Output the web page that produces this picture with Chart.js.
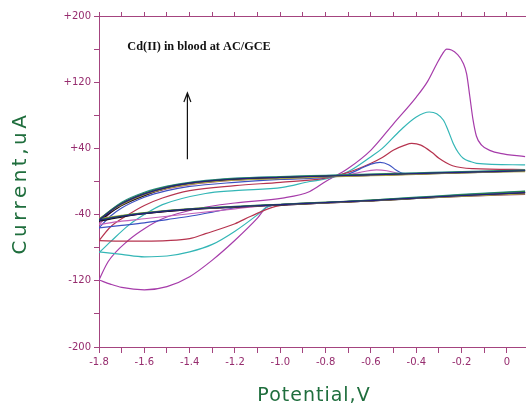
<!DOCTYPE html>
<html>
<head>
<meta charset="utf-8">
<script src="https://cdn.jsdelivr.net/npm/chart.js@4.4.0/dist/chart.umd.min.js"></script>
<style>
  html, body { margin: 0; padding: 0; background: #fff; }
  #cv { display: block; }
</style>
</head>
<body>
<canvas id="cv" width="526" height="405"></canvas>
<script>
// potential grids (V) for the background scans
const blankCathE = [-1.8, -1.7, -1.6, -1.4, -1.2, -1.0, -0.8, -0.6, -0.4, -0.2, 0.08];
const blankAnodE = [-1.8, -1.75, -1.7, -1.6, -1.5, -1.4, -1.3, -1.2, -1.0, -0.8, -0.6, -0.4, -0.2, 0.08];

// background scans, current in uA
const blank1Cath = [-47, -42, -38.5, -33.5, -30.5, -28, -25.5, -23, -20, -17, -13.5];
const blank1Anod = [-47, -36, -27, -15, -7, -2, 1, 3, 5, 6.5, 8, 9.5, 11, 13];
const blank2Cath = [-46, -41.5, -38, -33, -30, -27.5, -25, -22.5, -19.5, -16, -12];
const blank2Anod = [-46, -35, -26, -14, -6, -1.5, 1.5, 3.5, 5.5, 7, 8.5, 10, 11.5, 13.5];
const blank3Cath = [-45, -41, -37.5, -33, -30.5, -28, -26, -23.5, -20.5, -18, -15];
const blank3Anod = [-45, -36, -28, -16, -8.5, -3.5, -0.5, 1.5, 3.5, 5.5, 7, 8.5, 10.5, 12];
const blank4Cath = [-48, -43, -39, -34, -31, -28.5, -26, -23.5, -20.5, -17.5, -14];
const blank4Anod = [-48, -38, -29, -17, -8, -3, 0, 2.5, 4.5, 6, 7.5, 9, 10.5, 12.5];
const blank5Cath = [-46.5, -42, -38.5, -33.5, -30.5, -28, -25.5, -22.5, -19, -15.5, -11.5];
const blank5Anod = [-46.5, -35, -25, -13, -5.5, -1, 2, 4, 6, 7.5, 9, 10.5, 12, 14];
const blank6Cath = [-47.5, -42.5, -39, -34, -31, -28.5, -26, -23.5, -20.5, -18, -15.5];
const blank6Anod = [-47.5, -37, -27.5, -15.5, -7.5, -2.5, 0.5, 2.5, 4.5, 6, 7.5, 9, 11, 13];

// Cd additions, lowest to highest
const cd1CathE = [-1.8, -1.7, -1.6, -1.4, -1.2, -1.1, -1.0, -0.8, -0.6, -0.4, -0.2, 0.08];
const cd1CathI = [-52, -48, -45, -39, -33, -30, -28, -25.5, -23, -20, -17, -13.5];
const cd1AnodE = [-1.8, -1.75, -1.7, -1.6, -1.5, -1.4, -1.2, -1.0, -0.8, -0.7, -0.65, -0.6, -0.575, -0.53, -0.48, -0.44, -0.4, -0.2, 0.08];
const cd1AnodI = [-52, -38, -29, -17, -9, -4, 1.5, 4, 6, 8, 11, 13.5, 14, 13, 10, 9, 9.5, 11, 13];

const cd2CathE = [-1.8, -1.7, -1.6, -1.5, -1.4, -1.3, -1.16, -1.0, -0.8, -0.6, -0.4, -0.2, 0.08];
const cd2CathI = [-56, -53, -50, -46, -42, -37, -30, -28, -25.5, -23, -20, -17, -13.5];
const cd2AnodE = [-1.8, -1.75, -1.7, -1.6, -1.5, -1.4, -1.2, -1.0, -0.8, -0.7, -0.65, -0.6, -0.56, -0.52, -0.49, -0.46, -0.4, -0.2, 0.08];
const cd2AnodI = [-56, -42, -32, -19, -11, -6, -1, 2.5, 5, 9, 15, 21, 23, 20, 14, 10, 9.5, 11, 13];

const cd3CathE = [-1.8, -1.7, -1.6, -1.5, -1.4, -1.33, -1.2, -1.13, -1.02, -0.8, -0.6, -0.4, -0.2, 0.08];
const cd3CathI = [-71.5, -72, -72, -71.5, -69, -63, -51, -42, -30, -25.5, -23, -20, -17, -13.5];
const cd3AnodE = [-1.8, -1.75, -1.67, -1.6, -1.52, -1.4, -1.2, -1.0, -0.8, -0.7, -0.6, -0.55, -0.5, -0.45, -0.42, -0.38, -0.33, -0.3, -0.24, -0.15, 0.08];
const cd3AnodI = [-71.5, -55, -40, -29, -20, -11, -5, -1, 4, 11, 22, 29, 38, 44, 46, 44, 35, 28, 19, 15.5, 14.5];

const cd4CathE = [-1.8, -1.7, -1.6, -1.5, -1.4, -1.3, -1.2, -1.1, -1.06, -1.0, -0.8, -0.6, -0.4, -0.2, 0.08];
const cd4CathI = [-85, -88, -91, -90, -85, -76, -60, -40, -31, -28, -25.5, -23, -20, -17, -13.5];
const cd4AnodE = [-1.8, -1.75, -1.67, -1.6, -1.52, -1.33, -1.2, -0.99, -0.87, -0.8, -0.7, -0.6, -0.55, -0.47, -0.4, -0.343, -0.31, -0.28, -0.26, -0.237, -0.215, -0.193, -0.16, -0.134, 0.08];
const cd4AnodI = [-86, -73, -53, -40, -28, -14.5, -11, -7, 0, 3, 12, 30, 40, 62, 78, 84, 82, 74, 62, 46, 35, 28, 24, 22, 20];

const cd5CathE = [-1.8, -1.75, -1.7, -1.6, -1.5, -1.4, -1.3, -1.2, -1.1, -1.06, -1.0, -0.8, -0.6, -0.4, -0.2, 0.08];
const cd5CathI = [-119, -124, -128, -131, -127, -115, -95, -71, -44, -31, -28, -25.5, -23, -20, -17, -13.5];
const cd5AnodE = [-1.8, -1.76, -1.67, -1.6, -1.52, -1.35, -1.2, -0.99, -0.87, -0.8, -0.7, -0.6, -0.5, -0.4, -0.35, -0.31, -0.285, -0.266, -0.245, -0.22, -0.193, -0.178, -0.164, -0.15, -0.135, -0.112, -0.07, -0.03, 0.08];
const cd5AnodI = [-119, -97, -71, -57, -45, -32, -26, -20, -12, 0, 16, 38, 70, 102, 121, 142, 154, 160, 159, 154, 143, 130, 103, 75, 55, 44, 37, 34, 30];

// axes
const xTickValues = [-1.8, -1.7, -1.6, -1.5, -1.4, -1.3, -1.2, -1.1, -1.0, -0.9, -0.8, -0.7, -0.6, -0.5, -0.4, -0.3, -0.2, -0.1, 0];
const xTickLabels = ['-1.8', '', '-1.6', '', '-1.4', '', '-1.2', '', '-1.0', '', '-0.8', '', '-0.6', '', '-0.4', '', '-0.2', '', '0'];
const yTickValues = [-200, -160, -120, -80, -40, 0, 40, 80, 120, 160, 200];
const yTickLabels = ['-200', '', '-120', '', '-40', '', '+40', '', '+120', '', '+200'];

const axisColor = '#a4447f';
const tickTextColor = '#962c6e';
const titleColor = '#1f6e3d';

const pts = (E, I) => E.map((e, i) => ({ x: e, y: I[i] }));

const scans = [
  { c: blank1Cath, a: blank1Anod, color: '#22227e' },
  { c: blank2Cath, a: blank2Anod, color: '#2b7c42' },
  { c: blank3Cath, a: blank3Anod, color: '#aaa244' },
  { c: blank4Cath, a: blank4Anod, color: '#141414' },
  { c: blank5Cath, a: blank5Anod, color: '#2a8e8e' },
  { c: blank6Cath, a: blank6Anod, color: '#8e2c76' }
];

const datasets = [];
scans.forEach(s => {
  datasets.push({ data: pts(blankCathE, s.c), borderColor: s.color });
  datasets.push({ data: pts(blankAnodE, s.a), borderColor: s.color });
});

const cdScans = [
  { cE: cd1CathE, cI: cd1CathI, aE: cd1AnodE, aI: cd1AnodI, color: '#c462ba' },
  { cE: cd2CathE, cI: cd2CathI, aE: cd2AnodE, aI: cd2AnodI, color: '#3c52c2' },
  { cE: cd3CathE, cI: cd3CathI, aE: cd3AnodE, aI: cd3AnodI, color: '#b6344f' },
  { cE: cd4CathE, cI: cd4CathI, aE: cd4AnodE, aI: cd4AnodI, color: '#33b6b6' },
  { cE: cd5CathE, cI: cd5CathI, aE: cd5AnodE, aI: cd5AnodI, color: '#a63caa' }
];
cdScans.forEach(s => {
  datasets.push({ data: pts(s.cE, s.cI), borderColor: s.color });
  datasets.push({ data: pts(s.aE, s.aI), borderColor: s.color });
});

datasets.forEach(d => {
  d.borderWidth = 1.2;
  d.pointRadius = 0;
  d.fill = false;
  d.cubicInterpolationMode = 'monotone';
});

// caption, arrow and axis titles
const annotations = {
  id: 'annotations',
  afterDraw(chart) {
    const { ctx, scales } = chart;
    const x = scales.x, y = scales.y;
    ctx.save();

    ctx.fillStyle = '#111';
    ctx.font = 'bold 12.3px "Liberation Serif"';
    ctx.textAlign = 'left';
    ctx.textBaseline = 'alphabetic';
    ctx.fillText('Cd(II) in blood at AC/GCE', x.getPixelForValue(-1.675), y.getPixelForValue(159));

    const ax = x.getPixelForValue(-1.41);
    const top = y.getPixelForValue(107);
    const bottom = y.getPixelForValue(27);
    ctx.strokeStyle = '#111';
    ctx.lineWidth = 1.2;
    ctx.beginPath();
    ctx.moveTo(ax, bottom);
    ctx.lineTo(ax, top);
    ctx.moveTo(ax - 3.5, top + 9);
    ctx.lineTo(ax, top);
    ctx.lineTo(ax + 3.5, top + 9);
    ctx.stroke();

    ctx.fillStyle = titleColor;
    ctx.font = '19px "DejaVu Sans"';
    ctx.textAlign = 'center';
    ctx.letterSpacing = '1px';
    ctx.fillText('Potential,V', 314, 401);

    ctx.translate(26, 183);
    ctx.rotate(-Math.PI / 2);
    ctx.font = '20px "DejaVu Sans"';
    ctx.letterSpacing = '3.5px';
    ctx.fillText('Current,uA', 0, 0);
    ctx.restore();
  }
};

Chart.defaults.font.family = '"DejaVu Sans"';

new Chart(document.getElementById('cv'), {
  type: 'line',
  data: { datasets },
  options: {
    responsive: false,
    animation: false,
    devicePixelRatio: 1,
    layout: { padding: 0 },
    plugins: { legend: { display: false }, tooltip: { enabled: false } },
    scales: {
      x: {
        type: 'linear',
        position: 'bottom',
        min: -1.8,
        max: 0.084,
        afterBuildTicks: s => { s.ticks = xTickValues.map(v => ({ value: v })); },
        afterFit: s => { s.height = 58; },
        grid: { drawOnChartArea: false, tickLength: 6, color: axisColor, tickColor: axisColor },
        border: { display: true, color: axisColor, width: 1 },
        ticks: {
          autoSkip: false, maxRotation: 0, padding: 3,
          color: tickTextColor, font: { size: 10 },
          callback: (v, i) => xTickLabels[i]
        }
      },
      x2: {
        type: 'linear',
        position: 'top',
        min: -1.8,
        max: 0.084,
        afterBuildTicks: s => { s.ticks = xTickValues.map(v => ({ value: v })); },
        afterFit: s => { s.height = 16; },
        grid: { drawOnChartArea: false, tickLength: 4, color: axisColor, tickColor: axisColor },
        border: { display: true, color: axisColor, width: 1 },
        ticks: { display: false }
      },
      y: {
        type: 'linear',
        position: 'left',
        min: -200,
        max: 200,
        afterBuildTicks: s => { s.ticks = yTickValues.map(v => ({ value: v })); },
        afterFit: s => { s.width = 99; },
        grid: { drawOnChartArea: false, tickLength: 5, color: axisColor, tickColor: axisColor },
        border: { display: true, color: axisColor, width: 1 },
        ticks: {
          autoSkip: false, padding: 3,
          color: tickTextColor, font: { size: 10 },
          callback: (v, i) => yTickLabels[i]
        }
      }
    }
  },
  plugins: [annotations]
});
</script>
</body>
</html>
